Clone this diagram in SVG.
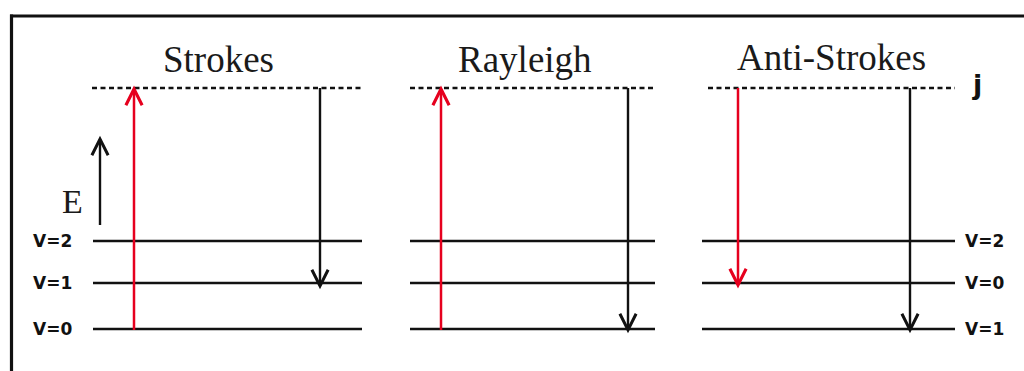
<svg xmlns="http://www.w3.org/2000/svg" width="1024" height="371" viewBox="0 0 1024 371">
<style>
.title{font-family:"Liberation Serif",serif;font-size:37px;fill:#1a1a1a}
.lbl{font-family:"DejaVu Sans",sans-serif;font-size:17px;font-weight:bold;fill:#111}
.lvl{stroke:#111;stroke-width:2.4;fill:none}
.dash{stroke:#111;stroke-width:2.4;stroke-dasharray:5 3.5;fill:none}
.red{stroke:#e6001e;stroke-width:2.5;fill:none}
.blk{stroke:#111;stroke-width:2.4;fill:none}
</style>
<defs>
<marker id="ahR" markerUnits="userSpaceOnUse" markerWidth="20" markerHeight="20" viewBox="-14 -8 16 16" refX="0" refY="0" orient="auto" overflow="visible">
<path d="M-13,-6.5 L0,0 L-13,6.5" fill="none" stroke="#e6001e" stroke-width="2.5"/>
</marker>
<marker id="ahB" markerUnits="userSpaceOnUse" markerWidth="20" markerHeight="20" viewBox="-14 -8 16 16" refX="0" refY="0" orient="auto" overflow="visible">
<path d="M-13,-6.5 L0,0 L-13,6.5" fill="none" stroke="#111" stroke-width="2.4"/>
</marker>
</defs>
<rect width="1024" height="371" fill="#fff"/>
<g id="frame">
<line x1="10" y1="16" x2="1024" y2="16" stroke="#111" stroke-width="3.2"/>
<line x1="11.5" y1="14.4" x2="11.5" y2="371" stroke="#111" stroke-width="3.2"/>
</g>
<g id="axis">
<line class="blk" x1="100" y1="225" x2="100" y2="139" marker-end="url(#ahB)"/>
<text x="62" y="213" font-family="Liberation Serif,serif" font-size="34" fill="#1a1a1a">E</text>
</g>
<g id="stokes">
<text class="title" x="163" y="72">Strokes</text>
<line class="dash" x1="92" y1="88" x2="362" y2="88"/>
<line class="lvl" x1="93" y1="241" x2="362" y2="241"/>
<line class="lvl" x1="93" y1="283" x2="362" y2="283"/>
<line class="lvl" x1="93" y1="329" x2="362" y2="329"/>
<text class="lbl" x="33" y="247">V=2</text>
<text class="lbl" x="33" y="289">V=1</text>
<text class="lbl" x="33" y="335">V=0</text>
</g>
<g id="rayleigh">
<text class="title" x="458" y="72">Rayleigh</text>
<line class="dash" x1="410" y1="88" x2="655" y2="88"/>
<line class="lvl" x1="410" y1="241" x2="655" y2="241"/>
<line class="lvl" x1="410" y1="283" x2="655" y2="283"/>
<line class="lvl" x1="410" y1="329" x2="655" y2="329"/>
</g>
<g id="antistokes">
<text class="title" x="737" y="70">Anti-Strokes</text>
<line class="dash" x1="708" y1="88" x2="955" y2="88"/>
<text x="973" y="94" font-family="DejaVu Sans,sans-serif" font-size="27" font-weight="bold" fill="#111">j</text>
<line class="lvl" x1="702" y1="241" x2="955" y2="241"/>
<line class="lvl" x1="702" y1="283" x2="955" y2="283"/>
<line class="lvl" x1="702" y1="329" x2="955" y2="329"/>
<text class="lbl" x="965" y="247">V=2</text>
<text class="lbl" x="965" y="289">V=0</text>
<text class="lbl" x="965" y="335">V=1</text>
</g>
<g id="connectors">
<line class="red" x1="134" y1="330" x2="134" y2="89" marker-end="url(#ahR)"/>
<line class="blk" x1="320" y1="88" x2="320" y2="286" marker-end="url(#ahB)"/>
<line class="red" x1="441" y1="330" x2="441" y2="89" marker-end="url(#ahR)"/>
<line class="blk" x1="628" y1="88" x2="628" y2="330" marker-end="url(#ahB)"/>
<line class="red" x1="738" y1="88" x2="738" y2="285" marker-end="url(#ahR)"/>
<line class="blk" x1="910" y1="88" x2="910" y2="330" marker-end="url(#ahB)"/>
</g>
</svg>
